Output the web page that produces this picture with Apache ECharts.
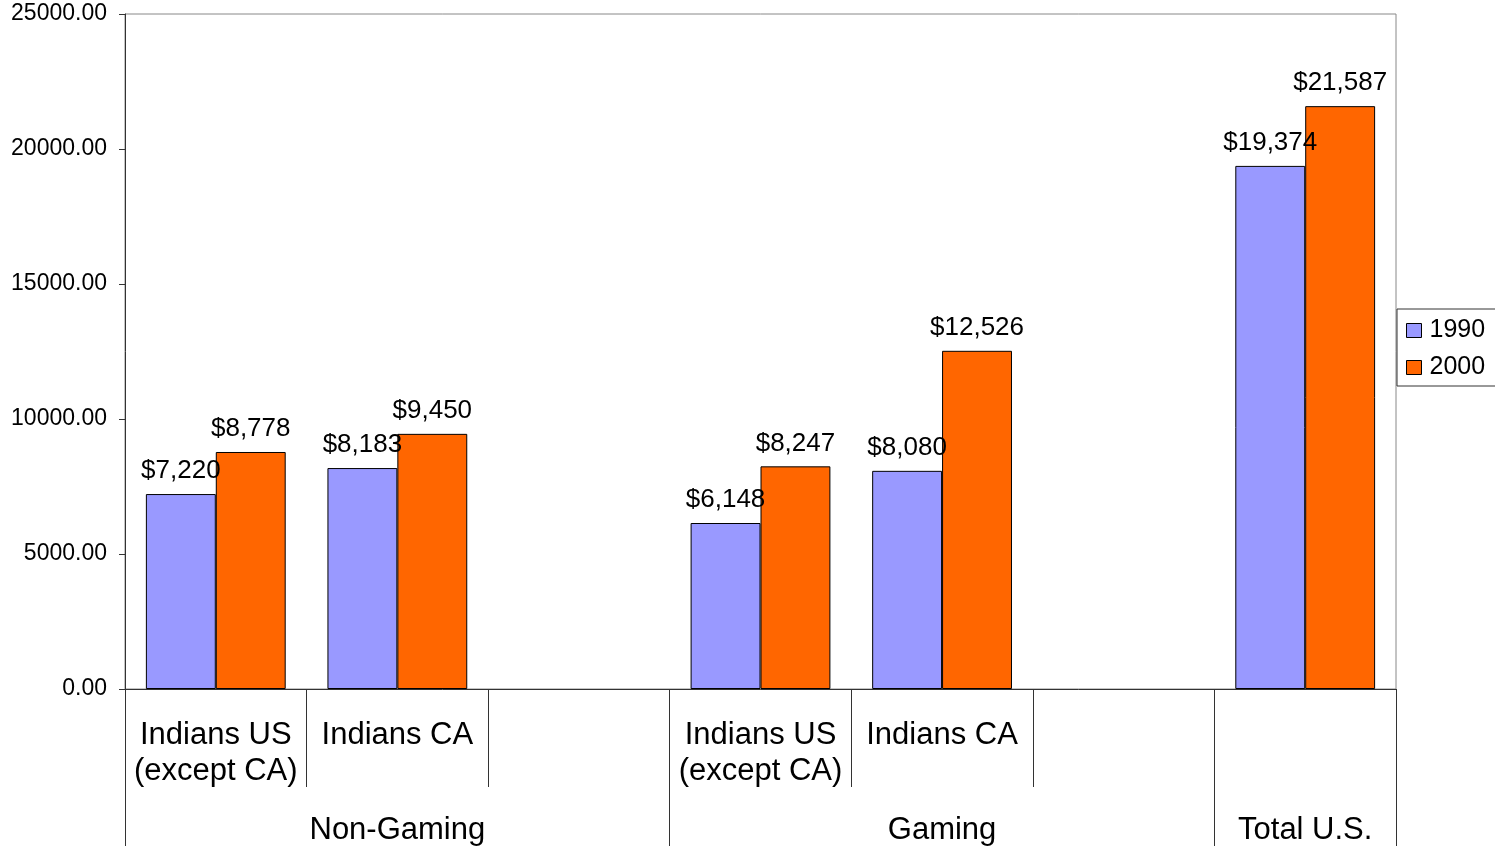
<!DOCTYPE html>
<html>
<head>
<meta charset="utf-8">
<script src="https://cdn.jsdelivr.net/npm/echarts@6/dist/echarts.min.js"></script>
<style>
html,body{margin:0;padding:0;background:#fff;}
#chart{width:1495px;height:846px;}
</style>
</head>
<body>
<div id="chart"></div>
<script>
var categories = ['Indians US\n(except CA)', 'Indians CA', '', 'Indians US\n(except CA)', 'Indians CA', '', ''];
var groupLabels = ['', 'Non-Gaming', '', '', 'Gaming', '', 'Total U.S.'];
var groupStarts = [0, 3, 6];
var seriesNames = ['1990', '2000'];
var values1990 = [7220, 8183, null, 6148, 8080, null, 19374];
var values2000 = [8778, 9450, null, 8247, 12526, null, 21587];
var yTicks = [0, 5000, 10000, 15000, 20000, 25000];

var FONT = '"Liberation Sans", Arial, sans-serif';
var AXIS = '#333333';

var chart = echarts.init(document.getElementById('chart'), null, {renderer: 'canvas'});

function money(p) {
  return '$' + Number(p.value).toLocaleString('en-US');
}

var option = {
  backgroundColor: '#ffffff',
  animation: false,
  textStyle: {fontFamily: FONT},
  grid: {
    left: 125, right: 99, top: 14, bottom: 157,
    show: true, borderColor: '#888888', borderWidth: 1, backgroundColor: 'transparent',
    containLabel: false,
    outerBoundsMode: 'none'
  },
  legend: {
    show: true,
    orient: 'vertical',
    left: 1397, top: 309,
    padding: [9, 20, 6, 9],
    itemGap: 12,
    itemWidth: 15, itemHeight: 14,
    icon: 'rect',
    borderColor: '#333333', borderWidth: 1,
    backgroundColor: '#ffffff',
    itemStyle: {borderColor: '#000', borderWidth: 1},
    textStyle: {fontSize: 25, color: '#000', fontFamily: FONT, padding: [0, 0, 0, 3]},
    data: seriesNames
  },
  xAxis: [
    {
      type: 'category',
      position: 'bottom',
      data: categories,
      axisLine: {show: true, lineStyle: {color: AXIS, width: 1}},
      axisTick: {show: true, interval: 0, length: 98, lineStyle: {color: AXIS, width: 1}},
      axisLabel: {interval: 0, margin: 28, fontSize: 31, lineHeight: 36, color: '#000', fontFamily: FONT},
      splitLine: {show: false}
    },
    {
      type: 'category',
      position: 'bottom',
      offset: 0,
      data: groupLabels,
      axisLine: {show: false},
      axisTick: {
        show: true, length: 165,
        interval: function (idx) { return groupStarts.indexOf(idx) >= 0; },
        lineStyle: {color: AXIS, width: 1}
      },
      axisLabel: {interval: 0, margin: 123, fontSize: 31, lineHeight: 36, color: '#000', fontFamily: FONT},
      splitLine: {show: false}
    }
  ],
  yAxis: {
    type: 'value',
    min: yTicks[0], max: yTicks[yTicks.length - 1], interval: yTicks[1] - yTicks[0],
    axisLine: {show: true, lineStyle: {color: AXIS, width: 1}},
    axisTick: {show: true, length: 6, lineStyle: {color: AXIS, width: 1}},
    axisLabel: {
      margin: 18, fontSize: 23, color: '#000', fontFamily: FONT, padding: [4, 0, 0, 0],
      formatter: function (v) { return v.toFixed(2); }
    },
    splitLine: {show: false}
  },
  series: [
    {
      name: seriesNames[0], type: 'bar', xAxisIndex: 0,
      data: values1990,
      barGap: '0%', barCategoryGap: '23%',
      itemStyle: {color: '#9999FF', borderColor: '#000', borderWidth: 1},
      label: {show: true, position: 'top', distance: 10, fontSize: 26, color: '#000', fontFamily: FONT, formatter: money}
    },
    {
      name: seriesNames[1], type: 'bar', xAxisIndex: 0,
      data: values2000,
      barGap: '0%', barCategoryGap: '23%',
      itemStyle: {color: '#FF6600', borderColor: '#000', borderWidth: 1},
      label: {show: true, position: 'top', distance: 10, fontSize: 26, color: '#000', fontFamily: FONT, formatter: money}
    }
  ]
};
chart.setOption(option);
</script>
</body>
</html>
